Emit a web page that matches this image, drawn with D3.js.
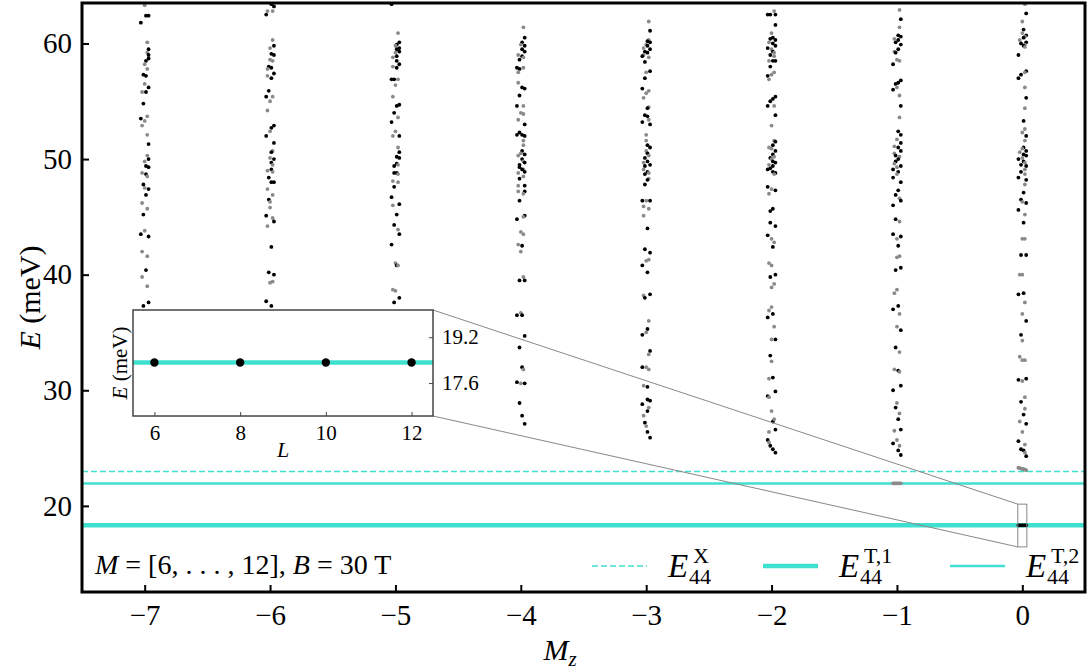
<!DOCTYPE html>
<html>
<head>
<meta charset="utf-8">
<style>
body { margin: 0; background: #fff; }
svg text { font-family: "Liberation Serif", "DejaVu Serif", serif !important; fill: #000; }
</style>
</head>
<body>
<script src="https://cdn.jsdelivr.net/npm/d3@7"></script>
<script>
// tick values
var mzTicks = [-7, -6, -5, -4, -3, -2, -1, 0];
var eTicks = [20, 30, 40, 50, 60];
var insetLTicks = [6, 8, 10, 12];
var insetETicks = [17.6, 19.2];

// reference energies (meV)
var EX44 = 22.97, ET1 = 18.32, ET2 = 21.94;

// inset points: L and E
var insetL = [6, 8, 10, 12];
var insetE = [18.32, 18.32, 18.32, 18.32];

// spectra per Mz column: [M, E (meV), black?]
var colM7 = [[9,63.3,0],[10,62.4,1],[12,62.4,1],[6,61.8,1],[11,60.1,0],[12,59.5,1],[11,59.2,0],[12,59.0,1],[12,58.7,1],[10,58.5,1],[9,58.2,0],[11,57.8,0],[8,57.3,1],[10,57.2,1],[9,56.5,0],[12,56.2,1],[7,55.8,0],[10,55.8,1],[8,54.8,1],[11,53.7,0],[6,53.5,1],[9,53.3,0],[7,52.9,0],[11,52.1,0],[12,51.3,1],[11,50.3,0],[12,50.0,1],[9,49.8,0],[10,49.4,1],[12,49.3,1],[7,48.8,0],[10,48.7,1],[11,48.5,0],[8,47.8,1],[9,47.5,0],[12,47.4,1],[10,46.9,1],[7,46.2,0],[11,45.7,0],[8,45.2,1],[9,43.8,0],[6,43.5,1],[12,43.3,1],[7,42.0,0],[11,41.6,0],[10,40.4,1],[7,39.8,0],[11,39.0,0],[12,37.6,1],[8,37.3,1]];
var colM6 = [[10,63.4,1],[12,63.2,1],[7,62.8,0],[11,62.8,0],[6,62.5,1],[11,60.3,0],[12,59.8,1],[9,59.6,0],[10,59.1,1],[12,59.0,1],[9,58.6,0],[11,58.5,0],[8,58.0,1],[10,57.9,1],[7,57.8,0],[12,57.4,1],[7,57.2,0],[10,57.0,1],[8,55.9,1],[11,55.4,0],[6,55.4,1],[9,55.0,0],[7,54.2,0],[12,52.9,1],[10,52.7,1],[9,52.4,0],[6,52.0,1],[12,51.4,1],[11,50.7,0],[10,50.6,1],[9,50.1,0],[12,50.0,1],[10,49.7,1],[11,49.5,0],[10,49.1,1],[7,49.0,0],[11,48.9,0],[8,48.4,1],[10,48.0,1],[12,48.0,1],[7,47.4,0],[11,46.9,0],[8,46.5,1],[9,46.3,0],[9,45.8,0],[6,45.1,1],[11,44.9,0],[12,44.6,1],[7,44.2,0],[10,42.4,1],[8,40.2,1],[12,40.0,1],[11,39.4,0],[9,39.3,0],[6,37.7,1],[10,37.3,1]];
var colM5 = [[6,63.4,1],[11,60.9,0],[12,60.1,1],[10,59.9,1],[9,59.8,0],[12,59.6,1],[10,59.5,1],[12,59.3,1],[9,59.2,0],[10,58.9,1],[7,58.8,0],[10,58.5,1],[12,58.2,1],[7,58.0,0],[10,57.9,1],[6,56.9,1],[8,56.9,1],[11,56.9,0],[9,56.4,0],[7,55.4,0],[12,54.7,1],[10,54.6,1],[8,54.0,1],[11,53.6,0],[6,53.2,1],[9,52.4,0],[12,52.0,1],[7,52.0,0],[11,51.0,0],[12,50.6,1],[10,50.2,1],[12,50.1,1],[10,49.6,1],[11,49.5,0],[8,49.4,1],[8,48.8,1],[10,48.8,1],[11,48.7,0],[7,48.1,0],[11,48.0,0],[8,47.6,1],[6,46.7,1],[12,46.1,1],[7,46.0,0],[10,45.2,1],[8,44.3,1],[11,43.9,0],[12,43.5,1],[6,42.6,1],[9,41.0,0],[10,40.8,1],[11,40.8,0],[7,38.7,0],[9,38.6,0],[12,38.0,1],[8,37.6,1]];
var colM4 = [[11,61.4,0],[12,60.5,1],[10,60.1,1],[9,59.9,0],[12,59.8,1],[10,59.5,1],[12,59.3,1],[7,59.0,0],[10,58.9,1],[11,58.8,0],[8,58.6,1],[6,57.9,1],[11,57.9,0],[8,57.8,1],[7,57.5,0],[7,56.6,0],[10,56.2,1],[12,56.1,1],[8,55.5,1],[6,54.6,1],[11,54.6,0],[9,54.0,0],[11,53.9,0],[7,53.4,0],[12,53.0,1],[8,52.3,1],[10,52.1,1],[6,52.1,1],[12,52.0,1],[11,51.6,0],[11,51.2,0],[10,50.7,1],[9,50.5,0],[12,50.4,1],[7,50.3,0],[10,50.0,1],[11,49.8,0],[12,49.7,1],[8,49.5,1],[8,49.3,1],[11,49.1,0],[10,49.1,1],[12,48.9,1],[7,48.8,0],[11,48.5,0],[8,48.3,1],[7,47.7,0],[12,47.7,1],[7,47.2,0],[12,47.2,1],[11,47.0,0],[8,46.4,1],[12,45.1,1],[11,45.0,0],[6,44.8,1],[9,43.7,0],[11,43.5,0],[7,42.6,0],[10,42.5,1],[9,42.0,0],[11,39.8,0],[8,39.5,1],[12,39.5,1],[9,36.7,0],[6,36.5,1],[10,36.5,1],[12,34.7,1],[8,33.7,1],[10,32.0,1],[11,31.8,0],[6,30.7,1],[9,30.6,0],[12,30.6,1],[8,28.9,1],[10,27.8,1],[12,27.1,1]];
var colM3 = [[11,61.9,0],[12,61.1,1],[11,60.3,0],[10,60.2,1],[12,60.1,1],[9,59.9,0],[10,59.8,1],[7,59.6,0],[12,59.5,1],[8,59.3,1],[10,59.2,1],[7,59.0,0],[6,58.9,1],[11,58.8,0],[8,58.4,1],[12,57.6,1],[9,57.5,0],[8,57.0,1],[6,56.1,1],[11,55.9,0],[9,55.7,0],[7,55.3,0],[11,54.5,0],[10,54.4,1],[8,53.8,1],[10,53.7,1],[11,53.4,0],[6,53.2,1],[12,53.0,1],[9,52.1,0],[9,51.6,0],[10,51.2,1],[12,51.0,1],[9,50.7,0],[10,50.5,1],[11,50.3,0],[8,50.1,1],[10,49.8,1],[7,49.7,0],[12,49.5,1],[8,49.4,1],[7,49.1,0],[10,48.9,1],[11,48.8,0],[8,48.7,1],[11,48.3,0],[10,48.2,1],[8,47.8,1],[6,46.4,1],[9,46.4,0],[12,46.4,1],[7,45.9,0],[11,45.7,0],[7,45.1,0],[10,44.0,1],[8,42.2,1],[12,41.9,1],[11,41.3,0],[9,41.2,0],[6,40.8,1],[10,40.2,1],[12,38.3,1],[7,38.2,0],[8,38.0,1],[11,36.0,0],[10,35.3,1],[9,35.0,0],[6,34.8,1],[12,33.4,1],[11,33.1,0],[6,32.0,1],[9,32.0,0],[11,31.8,0],[7,30.4,0],[10,30.3,1],[10,29.2,1],[12,29.1,1],[6,28.8,1],[11,28.5,0],[10,28.2,1],[7,27.8,0],[8,27.2,1],[9,26.9,0],[10,26.4,1],[12,25.9,1]];
var colM2 = [[6,62.5,1],[8,62.5,1],[12,62.5,1],[11,62.8,0],[12,61.6,1],[9,60.9,0],[10,60.5,1],[8,60.4,1],[12,60.3,1],[7,60.1,0],[10,60.0,1],[12,59.8,1],[6,59.6,1],[9,59.5,0],[10,59.3,1],[11,59.2,0],[8,59.0,1],[11,58.9,0],[10,58.5,1],[12,58.5,1],[7,58.5,0],[8,58.0,1],[11,57.5,0],[9,57.3,0],[6,57.2,1],[7,56.9,0],[12,55.4,1],[10,55.2,1],[8,55.0,1],[6,54.6,1],[11,54.6,0],[12,53.8,1],[9,52.9,0],[11,51.6,0],[12,51.5,1],[10,51.2,1],[7,51.0,0],[9,50.9,0],[12,50.7,1],[10,50.4,1],[11,50.2,0],[8,50.1,1],[9,50.0,0],[10,49.8,1],[12,49.7,1],[7,49.5,0],[10,49.4,1],[8,49.2,1],[6,49.1,1],[10,48.9,1],[12,48.8,1],[11,48.7,0],[6,47.6,1],[9,47.4,0],[12,47.3,1],[7,47.0,0],[10,45.7,1],[8,45.5,1],[8,44.5,1],[12,44.2,1],[6,43.4,1],[9,43.1,0],[11,42.8,0],[10,42.4,1],[7,41.0,0],[9,40.8,0],[12,40.0,1],[8,39.8,1],[11,39.2,0],[9,38.9,0],[9,37.2,0],[7,36.9,0],[10,36.6,1],[6,36.3,1],[11,35.5,0],[12,34.4,1],[9,34.4,0],[8,33.0,1],[9,32.5,0],[10,31.1,1],[7,31.0,0],[12,29.9,1],[6,29.5,1],[7,29.4,0],[9,28.2,0],[10,27.3,1],[11,27.5,0],[12,26.6,1],[7,26.4,0],[6,25.7,1],[7,25.5,0],[8,25.2,1],[10,24.9,1],[12,24.6,1]];
var colM1 = [[11,62.9,0],[12,62.1,1],[11,61.4,0],[10,60.7,1],[12,60.6,1],[7,60.4,0],[10,60.3,1],[8,60.1,1],[12,59.9,1],[10,59.5,1],[7,59.3,0],[8,59.2,1],[9,58.6,0],[11,58.5,0],[6,58.2,1],[12,56.8,1],[10,56.6,1],[8,56.5,1],[9,56.2,0],[6,56.0,1],[11,55.5,0],[12,54.6,1],[11,53.6,0],[10,52.4,1],[12,52.1,1],[9,51.7,0],[12,51.4,1],[7,51.1,0],[10,51.0,1],[12,50.7,1],[7,50.5,0],[8,50.3,1],[11,50.2,0],[10,50.0,1],[8,49.8,1],[7,49.6,0],[12,49.4,1],[9,49.3,0],[6,49.1,1],[10,48.9,1],[9,48.7,0],[6,48.4,1],[12,48.0,1],[10,47.3,1],[8,46.9,1],[11,46.6,0],[12,46.4,1],[6,46.0,1],[8,44.8,1],[11,44.6,0],[6,43.5,1],[12,43.3,1],[9,43.1,0],[10,42.5,1],[11,41.6,0],[9,41.5,0],[12,40.6,1],[8,40.4,1],[9,38.7,0],[7,38.4,0],[10,37.3,1],[6,37.0,1],[11,36.6,0],[9,35.5,0],[12,35.2,1],[8,33.7,1],[11,33.3,0],[7,31.8,0],[10,31.7,1],[11,31.6,0],[12,30.4,1],[6,30.0,1],[9,28.9,0],[8,28.5,1],[11,28.0,0],[10,27.5,1],[12,26.6,1],[7,26.5,0],[9,25.7,0],[6,25.4,1],[11,25.2,0],[10,24.8,1],[12,24.4,1],[6,21.95,0],[7,21.95,0],[8,21.95,0],[9,21.95,0],[10,21.95,0],[11,21.95,0],[12,21.95,0]];
var col0 = [[11,63.4,0],[12,62.6,1],[9,61.9,0],[10,61.2,1],[9,60.9,0],[12,60.7,1],[11,60.6,0],[10,60.5,1],[7,60.3,0],[12,60.1,1],[8,60.0,1],[11,59.9,0],[10,59.8,1],[11,59.7,0],[6,59.0,1],[12,57.6,1],[11,57.5,0],[8,57.3,1],[6,57.0,1],[11,56.2,0],[12,55.3,1],[11,54.4,0],[10,53.3,1],[11,52.6,0],[9,52.3,0],[12,52.0,1],[11,51.6,0],[10,51.0,1],[9,50.9,0],[12,50.7,1],[7,50.6,0],[10,50.4,1],[12,50.3,1],[9,50.1,0],[6,50.0,1],[10,49.8,1],[11,49.7,0],[8,49.5,1],[12,49.4,1],[11,49.1,0],[8,48.9,1],[11,48.7,0],[6,48.4,1],[12,48.2,1],[11,47.8,0],[10,47.1,1],[8,46.5,1],[9,46.3,0],[12,46.2,1],[6,45.6,1],[11,45.2,0],[10,44.5,1],[9,43.1,0],[11,43.1,0],[8,41.7,1],[12,41.7,1],[7,40.0,0],[9,40.0,0],[6,38.3,1],[10,38.4,1],[11,37.6,0],[9,36.6,0],[12,36.0,1],[8,34.8,1],[9,34.3,0],[7,32.9,0],[11,32.6,0],[9,32.6,0],[12,31.0,1],[6,30.9,1],[9,30.8,0],[11,29.4,0],[8,29.0,1],[11,28.4,0],[10,27.9,1],[7,27.3,0],[12,27.1,1],[9,26.4,0],[6,25.6,1],[11,25.3,0],[8,24.9,1],[10,24.8,1],[11,24.6,0],[12,24.3,1],[6,23.3,0],[7,23.27,0],[8,23.23,0],[9,23.2,0],[10,23.17,0],[11,23.13,0],[12,23.1,0],[6,18.32,1],[7,18.32,1],[8,18.32,1],[9,18.32,1],[10,18.32,1],[11,18.32,1],[12,18.32,1]];

var columns = [[-7, colM7], [-6, colM6], [-5, colM5], [-4, colM4], [-3, colM3], [-2, colM2], [-1, colM1], [0, col0]];

var W = 1091, H = 672;
var pLeft = 82, pRight = 1085, pTop = 3, pBottom = 592;
var teal = "#40e0d0";
var mStep = 0.0103; // horizontal spread of the system sizes

var svg = d3.select("body").append("svg")
    .attr("width", W)
    .attr("height", H);

var x = d3.scaleLinear().domain([-7.5, 0.5]).range([pLeft, pRight]);
var y = d3.scaleLinear().domain([12.55, 63.5]).range([pBottom, pTop]);

svg.append("clipPath").attr("id", "plotclip")
  .append("rect").attr("x", pLeft).attr("y", pTop).attr("width", pRight - pLeft).attr("height", pBottom - pTop);

var plot = svg.append("g").attr("clip-path", "url(#plotclip)");

// reference lines
plot.append("line").attr("x1", pLeft).attr("x2", pRight).attr("y1", y(EX44)).attr("y2", y(EX44))
    .attr("stroke", teal).attr("stroke-width", 1.5).attr("stroke-dasharray", "6,3");
plot.append("line").attr("x1", pLeft).attr("x2", pRight).attr("y1", y(ET1)).attr("y2", y(ET1))
    .attr("stroke", teal).attr("stroke-width", 4.5);
plot.append("line").attr("x1", pLeft).attr("x2", pRight).attr("y1", y(ET2)).attr("y2", y(ET2))
    .attr("stroke", teal).attr("stroke-width", 2.5);

// spectra
var pts = [];
columns.forEach(function(c) {
  c[1].forEach(function(d) {
    pts.push({mz: c[0], m: d[0], e: d[1], k: d[2]});
  });
});

plot.append("g").selectAll("circle")
    .data(pts)
    .enter().append("circle")
    .attr("cx", function(d) { return x(d.mz + (d.m - 9) * mStep); })
    .attr("cy", function(d) { return y(d.e); })
    .attr("r", 1.9)
    .attr("fill", function(d) { return d.k ? "#000" : "#8a8a8a"; });

// axes
var xAxis = svg.append("g").attr("transform", "translate(0," + pBottom + ")")
    .call(d3.axisBottom(x).tickValues(mzTicks).tickSize(-7).tickPadding(12)
      .tickFormat(function(d) { return d < 0 ? "\u2212" + (-d) : d; }));
var yAxis = svg.append("g").attr("transform", "translate(" + pLeft + ",0)")
    .call(d3.axisLeft(y).tickValues(eTicks).tickSize(-7).tickPadding(10).tickFormat(d3.format("d")));
[xAxis, yAxis].forEach(function(a) {
  a.attr("font-family", null);
  a.select(".domain").remove();
  a.selectAll(".tick line").attr("stroke", "#000").attr("stroke-width", 2);
  a.selectAll(".tick text").attr("font-size", 29);
});

svg.append("rect").attr("x", pLeft).attr("y", pTop).attr("width", pRight - pLeft).attr("height", pBottom - pTop)
    .attr("fill", "none").attr("stroke", "#000").attr("stroke-width", 3);

// axis labels
var yl = svg.append("text")
    .attr("transform", "translate(40," + ((pTop + pBottom) / 2) + ") rotate(-90)")
    .attr("text-anchor", "middle").attr("font-size", 30);
yl.append("tspan").attr("font-style", "italic").text("E");
yl.append("tspan").text(" (meV)");

var xl = svg.append("text").attr("x", 560).attr("y", 660).attr("text-anchor", "middle").attr("font-size", 30);
xl.append("tspan").attr("font-style", "italic").text("M");
xl.append("tspan").attr("font-style", "italic").attr("font-size", 21).attr("dy", 6).text("z");

// zoom rectangle and connectors
var ix = d3.scaleLinear().domain([5.5, 12.5]).range([133, 433]);
var iy = d3.scaleLinear().domain([16.45, 20.15]).range([416, 310]);
var rx0 = x(0 + (5.5 - 9) * mStep), rx1 = x(0 + (12.5 - 9) * mStep);
var ry0 = y(20.15), ry1 = y(16.45);
svg.append("rect").attr("x", rx0).attr("y", ry0).attr("width", rx1 - rx0).attr("height", ry1 - ry0)
    .attr("fill", "none").attr("stroke", "#888").attr("stroke-width", 1);
svg.append("line").attr("x1", 433).attr("y1", 310).attr("x2", rx0).attr("y2", ry0)
    .attr("stroke", "#888").attr("stroke-width", 1);
svg.append("line").attr("x1", 433).attr("y1", 416).attr("x2", rx0).attr("y2", ry1)
    .attr("stroke", "#888").attr("stroke-width", 1);

// inset
var inset = svg.append("g");
inset.append("rect").attr("x", 133).attr("y", 310).attr("width", 300).attr("height", 106)
    .attr("fill", "#fff");
inset.append("line").attr("x1", 133).attr("x2", 433).attr("y1", iy(ET1)).attr("y2", iy(ET1))
    .attr("stroke", teal).attr("stroke-width", 4.5);
inset.selectAll("circle.ins")
    .data(insetL)
    .enter().append("circle")
    .attr("class", "ins")
    .attr("cx", function(d) { return ix(d); })
    .attr("cy", function(d, i) { return iy(insetE[i]); })
    .attr("r", 4.2)
    .attr("fill", "#000");
var ixAxis = inset.append("g").attr("transform", "translate(0,416)")
    .call(d3.axisBottom(ix).tickValues(insetLTicks).tickSize(-4).tickPadding(9).tickFormat(d3.format("d")));
var iyAxis = inset.append("g").attr("transform", "translate(433,0)")
    .call(d3.axisRight(iy).tickValues(insetETicks).tickSize(-4).tickPadding(9)
      .tickFormat(d3.format(".1f")));
[ixAxis, iyAxis].forEach(function(a) {
  a.attr("font-family", null);
  a.select(".domain").remove();
  a.selectAll(".tick line").attr("stroke", "#444").attr("stroke-width", 1);
  a.selectAll(".tick text").attr("font-size", 21);
});
inset.append("rect").attr("x", 133).attr("y", 310).attr("width", 300).attr("height", 106)
    .attr("fill", "none").attr("stroke", "#444").attr("stroke-width", 1.5);
var iyl = inset.append("text").attr("transform", "translate(127,363) rotate(-90)")
    .attr("text-anchor", "middle").attr("font-size", 21);
iyl.append("tspan").attr("font-style", "italic").text("E");
iyl.append("tspan").text(" (meV)");
inset.append("text").attr("x", ix(9)).attr("y", 457).attr("text-anchor", "middle")
    .attr("font-size", 22).attr("font-style", "italic").text("L");

// legend
function mathLabel(x0, yb, sup, sub) {
  var g = svg.append("g");
  g.append("text").attr("x", x0).attr("y", yb).attr("font-size", 33).attr("font-style", "italic").text("E");
  g.append("text").attr("x", x0 + 25).attr("y", yb - 14).attr("font-size", 22).text(sup);
  g.append("text").attr("x", x0 + 21).attr("y", yb + 7).attr("font-size", 22).text(sub);
}
var legendItems = [
  {x0: 592, dash: "6,3", w: 1.5, sup: "X"},
  {x0: 763, dash: null, w: 4.5, sup: "T,1"},
  {x0: 950, dash: null, w: 2.5, sup: "T,2"}
];
legendItems.forEach(function(d) {
  svg.append("line").attr("x1", d.x0).attr("x2", d.x0 + 55).attr("y1", 566).attr("y2", 566)
      .attr("stroke", teal).attr("stroke-width", d.w).attr("stroke-dasharray", d.dash);
  mathLabel(d.x0 + 76, 577, d.sup, "44");
});

// parameters
var pt = svg.append("text").attr("x", 95).attr("y", 574).attr("font-size", 28);
pt.append("tspan").attr("font-style", "italic").text("M");
pt.append("tspan").text(" = [6, . . . , 12], ");
pt.append("tspan").attr("font-style", "italic").text("B");
pt.append("tspan").text(" = 30 T");
</script>
</body>
</html>
